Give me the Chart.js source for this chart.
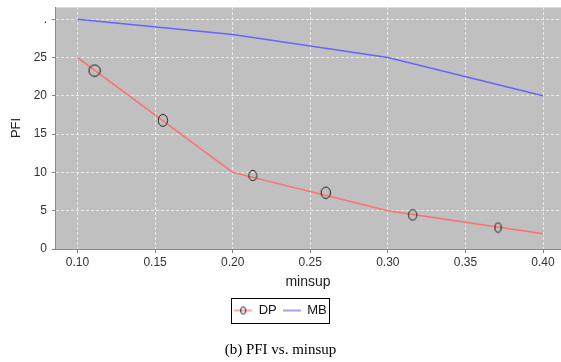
<!DOCTYPE html>
<html>
<head>
<meta charset="utf-8">
<script src="https://cdn.jsdelivr.net/npm/chart.js@4/dist/chart.umd.min.js"></script>
<style>
  html, body { margin: 0; padding: 0; background: #ffffff; }
  #wrap { position: relative; width: 561px; height: 362px; }
</style>
</head>
<body>
<div id="wrap"><canvas id="c" width="561" height="362"></canvas></div>
<script>
// ---- data ----
const minsup = [0.10, 0.20, 0.30, 0.40];
const dpValues = [25, 10, 5, 2];
const mbValues = [30, 28, 25, 20];
const dpMarkerX = [0.111, 0.155, 0.213, 0.260, 0.316, 0.371];
const dpMarkerY = [23.3, 16.8, 9.6, 7.35, 4.45, 2.8];
const xTicks = [0.10, 0.15, 0.20, 0.25, 0.30, 0.35, 0.40];
const yTicks = [0, 5, 10, 15, 20, 25, 30];
const seriesNames = ['DP', 'MB'];
const xTitle = 'minsup';
const yTitle = 'PFI';
const caption = '(b) PFI vs. minsup';

// ---- styles ----
const RED = '#ff6e6e';
const BLUE = '#6464ff';
const MARK = '#1e1e1e';
const markerW = [12, 10, 8.5, 10, 9, 7];
const markerH = [12, 12.5, 11, 12, 11, 10];

function ellipseIcon(w, h) {
  const c = document.createElement('canvas');
  c.width = Math.ceil(w) + 2; c.height = Math.ceil(h) + 2;
  const g = c.getContext('2d');
  g.strokeStyle = MARK; g.lineWidth = 1;
  g.beginPath();
  g.ellipse(c.width / 2, c.height / 2, w / 2 - 0.3, h / 2 - 0.3, 0, 0, Math.PI * 2);
  g.stroke();
  return c;
}
function legendIcon(color, withMarker) {
  const c = document.createElement('canvas');
  c.width = 18; c.height = 12;
  const g = c.getContext('2d');
  g.strokeStyle = color; g.lineWidth = 1.2;
  g.beginPath(); g.moveTo(0, 6); g.lineTo(18, 6); g.stroke();
  if (withMarker) {
    g.strokeStyle = MARK; g.lineWidth = 1;
    g.beginPath(); g.ellipse(9, 6, 2.6, 3.6, 0, 0, Math.PI * 2); g.stroke();
  }
  return c;
}
const markerIcons = markerW.map((w, i) => ellipseIcon(w, markerH[i]));
const dpLegendIcon = legendIcon(RED, true);
const mbLegendIcon = legendIcon(BLUE, false);

const plotBg = {
  id: 'plotBg',
  beforeDraw(chart) {
    const a = chart.chartArea, ctx = chart.ctx;
    ctx.save();
    ctx.fillStyle = '#c0c0c0';
    ctx.fillRect(a.left, a.top, a.right - a.left, a.bottom - a.top);
    ctx.strokeStyle = '#d8d8d8'; ctx.lineWidth = 1;
    ctx.beginPath(); ctx.moveTo(a.left, a.top + 0.5); ctx.lineTo(a.right, a.top + 0.5); ctx.stroke();
    ctx.restore();
  },
  afterDraw(chart) {
    const lg = chart.legend;
    if (!lg || !lg.legendHitBoxes || !lg.legendHitBoxes.length) return;
    const hb = lg.legendHitBoxes;
    let l = Infinity, r = -Infinity, t = Infinity, b = -Infinity;
    hb.forEach(h => { l = Math.min(l, h.left); r = Math.max(r, h.left + h.width); t = Math.min(t, h.top); b = Math.max(b, h.top + h.height); });
    const ctx = chart.ctx;
    ctx.save();
    ctx.strokeStyle = '#000'; ctx.lineWidth = 1;
    ctx.strokeRect(Math.round(l - 3) + 0.5, Math.round(t - 6) + 0.5, Math.round(r - l + 5), Math.round(b - t + 12));
    ctx.restore();
  }
};

const sans = "'Liberation Sans', Arial, sans-serif";

new Chart(document.getElementById('c'), {
  type: 'scatter',
  data: {
    datasets: [
      {
        label: 'DP markers',
        data: dpMarkerX.map((x, i) => ({x, y: dpMarkerY[i]})),
        showLine: false,
        pointStyle: markerIcons,
        pointRadius: 5,
        borderColor: MARK,
        backgroundColor: 'transparent'
      },
      {
        label: seriesNames[0],
        data: minsup.map((x, i) => ({x, y: dpValues[i]})),
        showLine: true,
        borderColor: RED,
        borderWidth: 1.5,
        pointRadius: 0,
        fill: false
      },
      {
        label: seriesNames[1],
        data: minsup.map((x, i) => ({x, y: mbValues[i]})),
        showLine: true,
        borderColor: BLUE,
        borderWidth: 1.5,
        pointRadius: 0,
        fill: false
      }
    ]
  },
  options: {
    responsive: false,
    animation: false,
    layout: { autoPadding: false, padding: { top: 7, right: 0, bottom: 0, left: 0 } },
    plugins: {
      tooltip: { enabled: false },
      legend: {
        position: 'bottom',
        align: 'center',
        labels: {
          usePointStyle: true,
          pointStyleWidth: 18,
          padding: 6,
          color: '#111',
          font: { family: sans, size: 13 },
          generateLabels: () => [
            { text: seriesNames[0], pointStyle: dpLegendIcon, fillStyle: RED, strokeStyle: RED, lineWidth: 1, hidden: false, datasetIndex: 1, fontColor: '#111' },
            { text: seriesNames[1], pointStyle: mbLegendIcon, fillStyle: BLUE, strokeStyle: BLUE, lineWidth: 1, hidden: false, datasetIndex: 2, fontColor: '#111' }
          ]
        }
      },
      title: {
        display: true,
        position: 'bottom',
        text: caption,
        color: '#000',
        font: { family: "'Liberation Serif', 'Times New Roman', serif", size: 15, weight: 'normal' },
        padding: { top: 14, bottom: 3 }
      }
    },
    scales: {
      x: {
        type: 'linear',
        min: 0.0855,
        max: 0.4116,
        afterBuildTicks: s => { s.ticks = xTicks.map(v => ({ value: v })); },
        afterFit: s => { s.height = 49; s.paddingLeft = 0; s.paddingRight = 0; },
        ticks: {
          padding: 2,
          color: '#333',
          font: { family: sans, size: 12 },
          callback: v => Number(v).toFixed(2)
        },
        grid: { color: 'rgba(236,236,236,0.95)', lineWidth: 1, tickLength: 4, tickColor: '#808080' },
        border: { display: true, color: '#8a8a8a', width: 1, dash: [3, 2] },
        title: { display: true, text: xTitle, color: '#222', font: { family: sans, size: 14 }, padding: { top: 0, bottom: 7 } }
      },
      y: {
        type: 'linear',
        min: 0,
        max: 31.6,
        afterBuildTicks: s => { s.ticks = yTicks.map(v => ({ value: v })); },
        afterFit: s => { s.width = 55; s.paddingTop = 0; s.paddingBottom = 0; },
        ticks: {
          padding: 5,
          color: '#333',
          font: { family: sans, size: 12 },
          callback: v => (v === 30 ? '.' : String(v))
        },
        grid: { color: 'rgba(236,236,236,0.95)', lineWidth: 1, tickLength: 3, tickColor: '#808080' },
        border: { display: true, color: '#8a8a8a', width: 1, dash: [3, 2] },
        title: { display: true, text: yTitle, color: '#222', font: { family: sans, size: 13 }, padding: { top: 9, bottom: 0 } }
      }
    }
  },
  plugins: [plotBg]
});
</script>
</body>
</html>
